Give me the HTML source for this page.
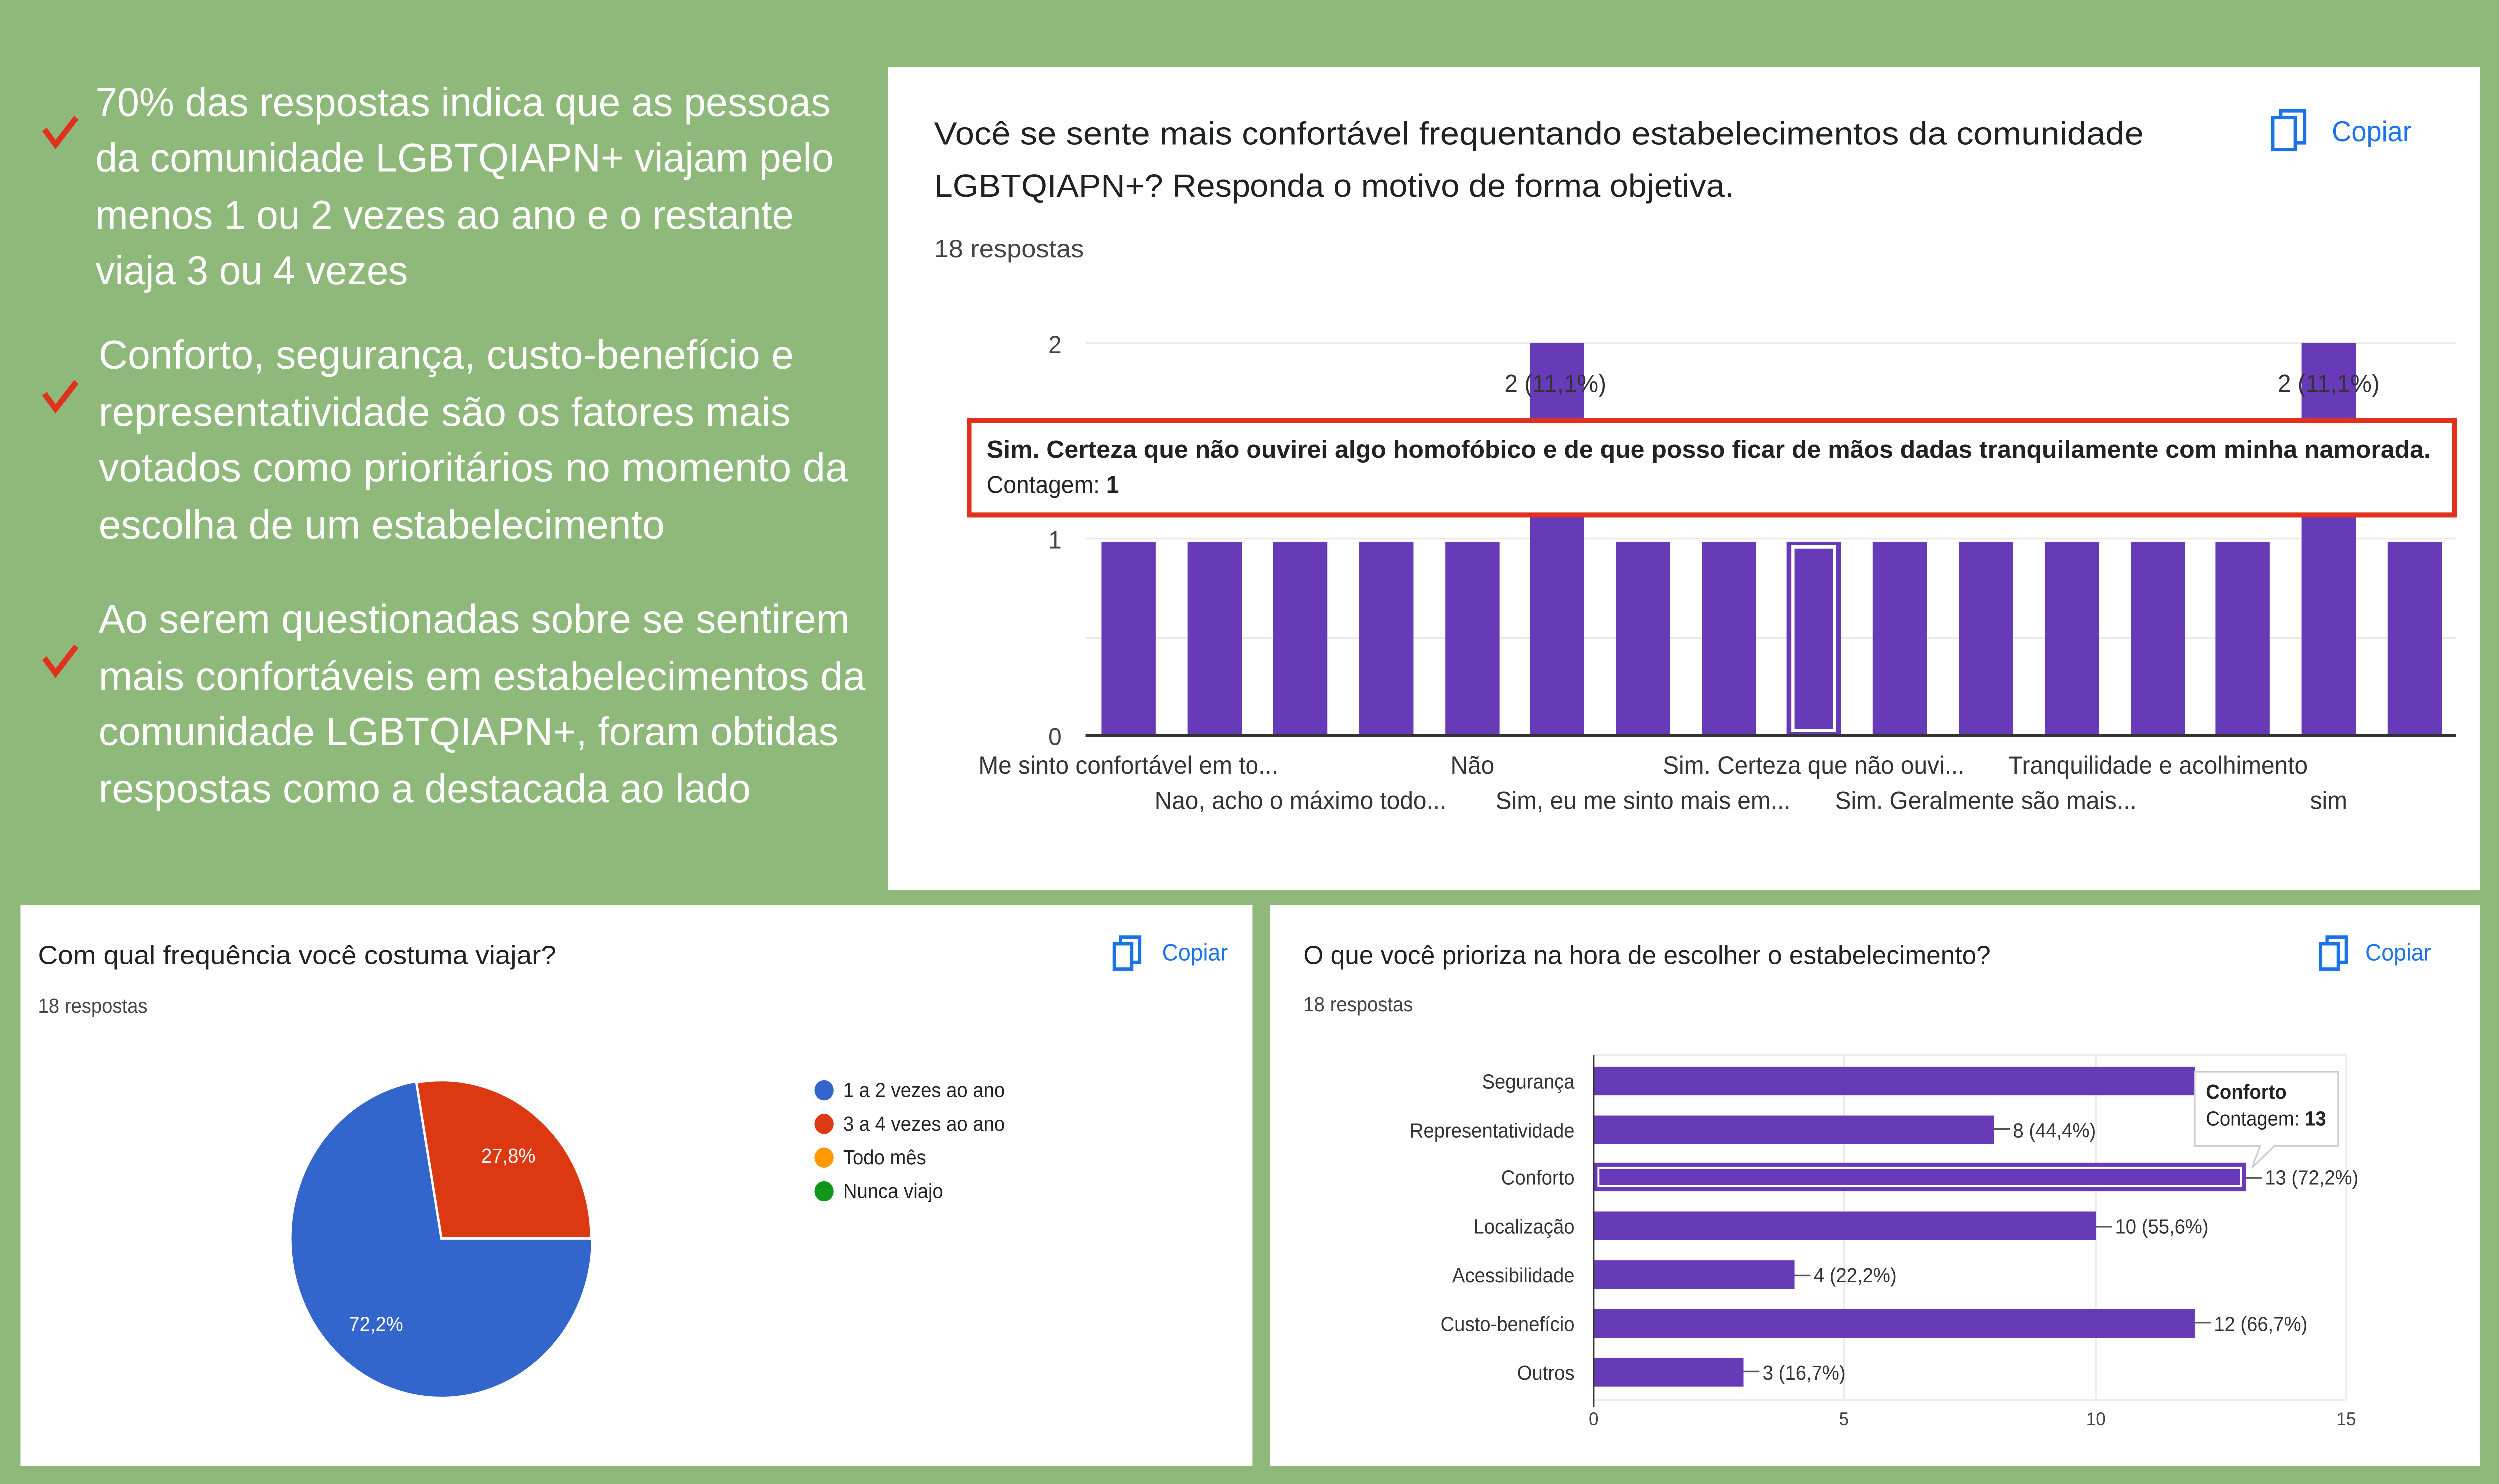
<!DOCTYPE html>
<html><head><meta charset="utf-8"><style>html,body{margin:0;padding:0;background:#8fb87b;overflow:hidden;width:100vw;height:100vh}svg{display:block;width:100vw;height:100vh}</style></head>
<body>
<svg viewBox="0 0 1568 882" preserveAspectRatio="none" xmlns="http://www.w3.org/2000/svg" font-family="Liberation Sans, sans-serif">
<rect width="1568" height="882" fill="#8fb87b"/>
<g fill="#fff" font-size="24">
<text x="60" y="69" textLength="461" lengthAdjust="spacingAndGlyphs">70% das respostas indica que as pessoas</text>
<text x="60" y="102" textLength="463" lengthAdjust="spacingAndGlyphs">da comunidade LGBTQIAPN+ viajam pelo</text>
<text x="60" y="136" textLength="438" lengthAdjust="spacingAndGlyphs">menos 1 ou 2 vezes ao ano e o restante</text>
<text x="60" y="169" textLength="196" lengthAdjust="spacingAndGlyphs">viaja 3 ou 4 vezes</text>
<text x="62" y="219" textLength="436" lengthAdjust="spacingAndGlyphs">Conforto, segurança, custo-benefício e</text>
<text x="62" y="253" textLength="434" lengthAdjust="spacingAndGlyphs">representatividade são os fatores mais</text>
<text x="62" y="286" textLength="470" lengthAdjust="spacingAndGlyphs">votados como prioritários no momento da</text>
<text x="62" y="320" textLength="355" lengthAdjust="spacingAndGlyphs">escolha de um estabelecimento</text>
<text x="62" y="376" textLength="471" lengthAdjust="spacingAndGlyphs">Ao serem questionadas sobre se sentirem</text>
<text x="62" y="410" textLength="481" lengthAdjust="spacingAndGlyphs">mais confortáveis em estabelecimentos da</text>
<text x="62" y="443" textLength="464" lengthAdjust="spacingAndGlyphs">comunidade LGBTQIAPN+, foram obtidas</text>
<text x="62" y="477" textLength="409" lengthAdjust="spacingAndGlyphs">respostas como a destacada ao lado</text>
</g>
<g fill="none" stroke="#e0301e" stroke-width="3.5">
<path d="M28 77 L35 86 L48 70"/><path d="M28 234 L35 243 L48 227"/><path d="M28 391 L35 400 L48 384"/>
</g>
<rect x="557" y="40" width="999" height="489" fill="#fff"/>
<g fill="#202124">
<text x="586" y="86" font-size="19" textLength="759" lengthAdjust="spacingAndGlyphs">Você se sente mais confortável frequentando estabelecimentos da comunidade</text>
<text x="586" y="117" font-size="19" textLength="502" lengthAdjust="spacingAndGlyphs">LGBTQIAPN+? Responda o motivo de forma objetiva.</text>
<text x="586" y="153" font-size="15" fill="#444" textLength="94" lengthAdjust="spacingAndGlyphs">18 respostas</text>
</g>
<g fill="none" stroke="#1a73e8" stroke-width="2"><rect x="1426" y="70" width="14" height="19"/><path d="M1431 70 V66 H1446 V85 H1440"/></g>
<text x="1463" y="84" font-size="17" fill="#1a73e8">Copiar</text>
<g stroke="#e8e8e8" stroke-width="1"><line x1="681" y1="204" x2="1541" y2="204"/><line x1="681" y1="262" x2="1541" y2="262"/><line x1="681" y1="320" x2="1541" y2="320"/><line x1="681" y1="379" x2="1541" y2="379"/></g>
<g font-size="15" fill="#444" text-anchor="end"><text x="666" y="210">2</text><text x="666" y="326">1</text><text x="666" y="443">0</text></g>
<g fill="#673ab7">
<rect x="691" y="322" width="34" height="115"/><rect x="745" y="322" width="34" height="115"/><rect x="799" y="322" width="34" height="115"/><rect x="853" y="322" width="34" height="115"/><rect x="907" y="322" width="34" height="115"/>
<rect x="960" y="204" width="34" height="233"/>
<rect x="1014" y="322" width="34" height="115"/><rect x="1068" y="322" width="34" height="115"/><rect x="1121" y="322" width="34" height="115"/><rect x="1175" y="322" width="34" height="115"/><rect x="1229" y="322" width="34" height="115"/><rect x="1283" y="322" width="34" height="115"/><rect x="1337" y="322" width="34" height="115"/><rect x="1390" y="322" width="34" height="115"/>
<rect x="1444" y="204" width="34" height="233"/>
<rect x="1498" y="322" width="34" height="115"/>
</g>
<rect x="1125" y="325" width="26" height="109" fill="none" stroke="#fff" stroke-width="2"/>
<line x1="681" y1="437" x2="1541" y2="437" stroke="#333" stroke-width="1.5"/>
<g font-size="15" fill="#333" text-anchor="middle"><text x="976" y="233">2 (11,1%)</text><text x="1461" y="233">2 (11,1%)</text></g>
<rect x="608" y="250" width="932" height="56" fill="#fff" stroke="#e0301e" stroke-width="3"/>
<text x="619" y="272" font-size="14.5" font-weight="bold" fill="#222" textLength="906" lengthAdjust="spacingAndGlyphs">Sim. Certeza que não ouvirei algo homofóbico e de que posso ficar de mãos dadas tranquilamente com minha namorada.</text>
<text x="619" y="293" font-size="14.5" fill="#222">Contagem: <tspan font-weight="bold">1</tspan></text>
<g font-size="15" fill="#333" text-anchor="middle">
<text x="708" y="460">Me sinto confortável em to...</text><text x="924" y="460">Não</text><text x="1138" y="460">Sim. Certeza que não ouvi...</text><text x="1354" y="460">Tranquilidade e acolhimento</text>
<text x="816" y="481">Nao, acho o máximo todo...</text><text x="1031" y="481">Sim, eu me sinto mais em...</text><text x="1246" y="481">Sim. Geralmente são mais...</text><text x="1461" y="481">sim</text>
</g>
<rect x="13" y="538" width="773" height="333" fill="#fff"/>
<text x="24" y="573" font-size="15.5" fill="#202124" textLength="325" lengthAdjust="spacingAndGlyphs">Com qual frequência você costuma viajar?</text>
<text x="24" y="602" font-size="12" fill="#444">18 respostas</text>
<g fill="none" stroke="#1a73e8" stroke-width="2"><rect x="699" y="561" width="11" height="15"/><path d="M703 561 V557 H715 V572 H710"/></g>
<text x="729" y="571" font-size="14" fill="#1a73e8">Copiar</text>
<circle cx="277" cy="736" r="94" fill="#3366cc"/>
<path d="M277 736 L261.3 643.3 A94 94 0 0 1 371 736 Z" fill="#dc3912" stroke="#fff" stroke-width="1.5"/>
<text x="319" y="691" font-size="12" fill="#fff" text-anchor="middle">27,8%</text>
<text x="236" y="791" font-size="12" fill="#fff" text-anchor="middle">72,2%</text>
<g font-size="12" fill="#222">
<circle cx="517" cy="648" r="6" fill="#3366cc"/><text x="529" y="652">1 a 2 vezes ao ano</text>
<circle cx="517" cy="668" r="6" fill="#dc3912"/><text x="529" y="672">3 a 4 vezes ao ano</text>
<circle cx="517" cy="688" r="6" fill="#ff9900"/><text x="529" y="692">Todo mês</text>
<circle cx="517" cy="708" r="6" fill="#109618"/><text x="529" y="712">Nunca viajo</text>
</g>
<rect x="797" y="538" width="759" height="333" fill="#fff"/>
<text x="818" y="573" font-size="15.5" fill="#202124" textLength="431" lengthAdjust="spacingAndGlyphs">O que você prioriza na hora de escolher o estabelecimento?</text>
<text x="818" y="601" font-size="12" fill="#444">18 respostas</text>
<g fill="none" stroke="#1a73e8" stroke-width="2"><rect x="1456" y="561" width="11" height="15"/><path d="M1460 561 V557 H1472 V572 H1467"/></g>
<text x="1484" y="571" font-size="14" fill="#1a73e8">Copiar</text>
<g stroke="#ececec"><line x1="1157" y1="627" x2="1157" y2="832"/><line x1="1315" y1="627" x2="1315" y2="832"/><line x1="1472" y1="627" x2="1472" y2="832"/><line x1="1000" y1="627" x2="1472" y2="627"/><line x1="1000" y1="832" x2="1472" y2="832"/></g>
<g fill="#673ab7">
<rect x="1000" y="634" width="377" height="17"/>
<rect x="1000" y="663" width="251" height="17"/>
<rect x="1000" y="691" width="409" height="17"/>
<rect x="1000" y="720" width="315" height="17"/>
<rect x="1000" y="749" width="126" height="17"/>
<rect x="1000" y="778" width="377" height="17"/>
<rect x="1000" y="807" width="94" height="17"/>
</g>
<rect x="1003" y="694" width="403" height="11" fill="none" stroke="#fff" stroke-width="1.2"/>
<line x1="1000" y1="627" x2="1000" y2="836" stroke="#333"/>
<g font-size="12" fill="#333" text-anchor="end">
<text x="988" y="647">Segurança</text><text x="988" y="676">Representatividade</text><text x="988" y="704">Conforto</text><text x="988" y="733">Localização</text><text x="988" y="762">Acessibilidade</text><text x="988" y="791">Custo-benefício</text><text x="988" y="820">Outros</text>
</g>
<g font-size="12" fill="#333">
<text x="1263" y="676">8 (44,4%)</text><text x="1421" y="704">13 (72,2%)</text><text x="1327" y="733">10 (55,6%)</text><text x="1138" y="762">4 (22,2%)</text><text x="1389" y="791">12 (66,7%)</text><text x="1106" y="820">3 (16,7%)</text>
</g>
<g stroke="#555"><line x1="1251" y1="671" x2="1261" y2="671"/><line x1="1409" y1="700" x2="1419" y2="700"/><line x1="1315" y1="729" x2="1325" y2="729"/><line x1="1126" y1="758" x2="1136" y2="758"/><line x1="1377" y1="786" x2="1387" y2="786"/><line x1="1094" y1="815" x2="1104" y2="815"/></g>
<g font-size="11" fill="#444" text-anchor="middle"><text x="1000" y="847">0</text><text x="1157" y="847">5</text><text x="1315" y="847">10</text><text x="1472" y="847">15</text></g>
<path d="M1377 637 H1467 V681 H1427 L1413 694 L1418 681 H1377 Z" fill="#fff" stroke="#ccc"/>
<text x="1384" y="653" font-size="12" font-weight="bold" fill="#222">Conforto</text>
<text x="1384" y="669" font-size="12" fill="#222">Contagem: <tspan font-weight="bold">13</tspan></text>
</svg>
</body></html>
